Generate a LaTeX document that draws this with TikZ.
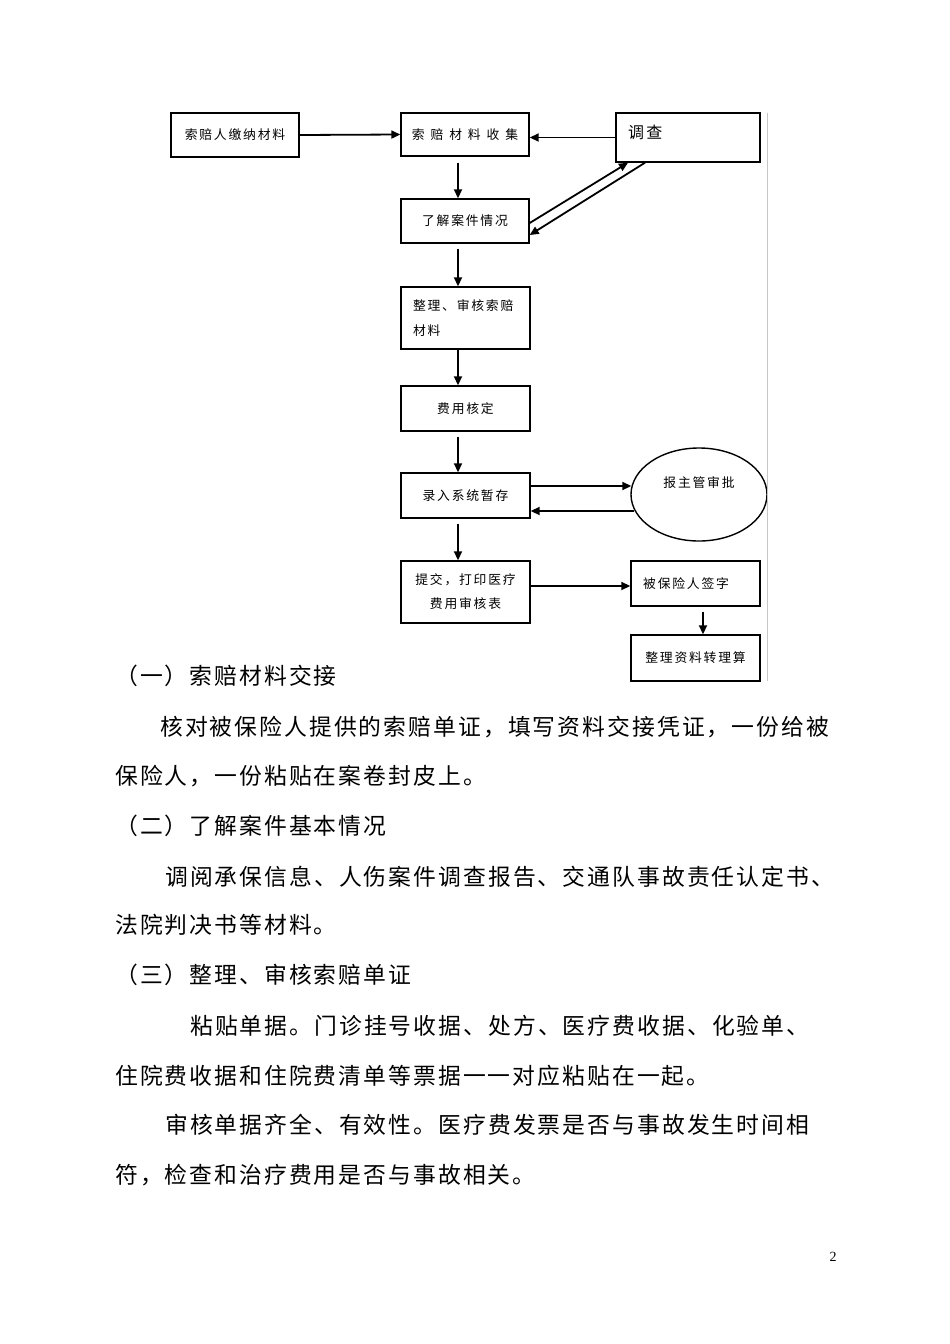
\documentclass[tikz,border=0pt]{standalone}
\usepackage{fontspec}
\usetikzlibrary{arrows.meta,shapes.geometric}
\newfontfamily\song[LetterSpace=14]{Noto Sans CJK SC}
\newfontfamily\fang[LetterSpace=9]{Noto Sans CJK SC}
\newfontfamily\tnr{Liberation Serif}
\tikzset{
  box/.style={draw, rectangle, line width=1.4pt, inner sep=0pt, font=\song\fontsize{12.8}{25}\selectfont},
  lbl/.style={inner sep=0pt, font=\song\fontsize{12.8}{25}\selectfont},
  arr/.style={line width=1.8pt, -{Triangle[length=9pt,width=8pt]}},
  body/.style={anchor=west, inner sep=0pt, font=\fang\fontsize{22.8}{25}\selectfont},
}
\begin{document}
\begin{tikzpicture}[x=1pt,y=-1pt]
\useasboundingbox[fill=white] (0,0) rectangle (950,1344);
% flowchart
\node[box, minimum width=128, minimum height=44] (n1) at (235,135) {索赔人缴纳材料};
\node[box, minimum width=128, minimum height=43] (n2) at (465,134.5) {\addfontfeature{LetterSpace=46}索赔材料收集};
\node[box, minimum width=144, minimum height=49] (n3) at (688,137.5) {};
\node[anchor=west, inner sep=0pt, font=\song\fontsize{16}{20}\selectfont] (t3) at (628,132) {调查};
\node[box, minimum width=128, minimum height=44] (n4) at (465,221) {了解案件情况};
\node[box, minimum width=129, minimum height=62, align=left, text width=105pt] (n5) at (465.5,318) {整理、审核索赔\\材料};
\node[box, minimum width=129, minimum height=45] (n6) at (465.5,408.5) {费用核定};
\node[box, minimum width=129, minimum height=45] (n7) at (465.5,495.5) {录入系统暂存};
\node[draw, ellipse, line width=1.4pt, minimum width=136, minimum height=93, inner sep=0pt] (n8) at (699,494.5) {};
\node[lbl] (t8) at (699,483) {报主管审批};
\node[box, minimum width=129, minimum height=62, align=center, font=\song\fontsize{12.8}{24}\selectfont] (n9) at (465.5,592) {提交，打印医疗\\费用审核表};
\node[box, minimum width=129, minimum height=45] (n10) at (695.5,583.5) {};
\node[lbl, anchor=west] (t10) at (643,584) {被保险人签字};
\node[box, minimum width=129, minimum height=46] (n11) at (695.5,658) {整理资料转理算};
% connectors
\draw[arr] (n1.east) -- (n2.west);
\draw[arr] (n3.west) -- (n3.west -| n2.east);
\draw[arr] ([xshift=-7pt,yshift=-6pt]n2.south) -- ([xshift=-7pt]n4.north);
\draw[arr] ([yshift=-2pt]n4.east) -- ([xshift=-60pt]n3.south);
\draw[arr] ([xshift=-43pt]n3.south) -- ([yshift=-14pt]n4.east);
\draw[arr] ([xshift=-7pt,yshift=-5pt]n4.south) -- ([xshift=-7.5pt]n5.north);
\draw[arr] ([xshift=-7.5pt]n5.south) -- ([xshift=-7.5pt]n6.north);
\draw[arr] ([xshift=-7.5pt,yshift=-5pt]n6.south) -- ([xshift=-7.5pt]n7.north);
\draw[arr] ([yshift=9.5pt]n7.east) -- ([yshift=8.5pt,xshift=1pt]n8.west);
\draw[arr] ([yshift=-16.5pt,xshift=4pt]n8.west) -- ([yshift=-15.5pt]n7.east);
\draw[arr] ([xshift=-7.5pt,yshift=-5pt]n7.south) -- ([xshift=-7.5pt]n9.north);
\draw[arr] ([yshift=6pt]n9.east) -- ([yshift=-2.5pt]n10.west);
\draw[arr] ([xshift=7.5pt,yshift=-5pt]n10.south) -- ([xshift=7.5pt]n11.north);
% right rule
\draw[line width=1pt, gray!45] (767,113) -- (767,681);
% body text
\node[body] (h1) at (115,676) {（一）索赔材料交接};
\node[body] (p1a) at (160,727) {核对被保险人提供的索赔单证，填写资料交接凭证，一份给被};
\node[body] (p1b) at (115,776) {保险人，一份粘贴在案卷封皮上。};
\node[body] (h2) at (115,826) {（二）了解案件基本情况};
\node[body] (p2a) at (165,877) {调阅承保信息、人伤案件调查报告、交通队事故责任认定书、};
\node[body] (p2b) at (115,925) {法院判决书等材料。};
\node[body] (h3) at (115,975) {（三）整理、审核索赔单证};
\node[body] (p3a) at (190,1026) {粘贴单据。门诊挂号收据、处方、医疗费收据、化验单、};
\node[body] (p3b) at (115,1076) {住院费收据和住院费清单等票据一一对应粘贴在一起。};
\node[body] (p4a) at (165,1125) {审核单据齐全、有效性。医疗费发票是否与事故发生时间相};
\node[body] (p4b) at (115,1175) {符，检查和治疗费用是否与事故相关。};
\node[inner sep=0pt, font=\tnr\fontsize{14}{16}\selectfont] (pg) at (833,1257) {2};
\end{tikzpicture}
\end{document}
